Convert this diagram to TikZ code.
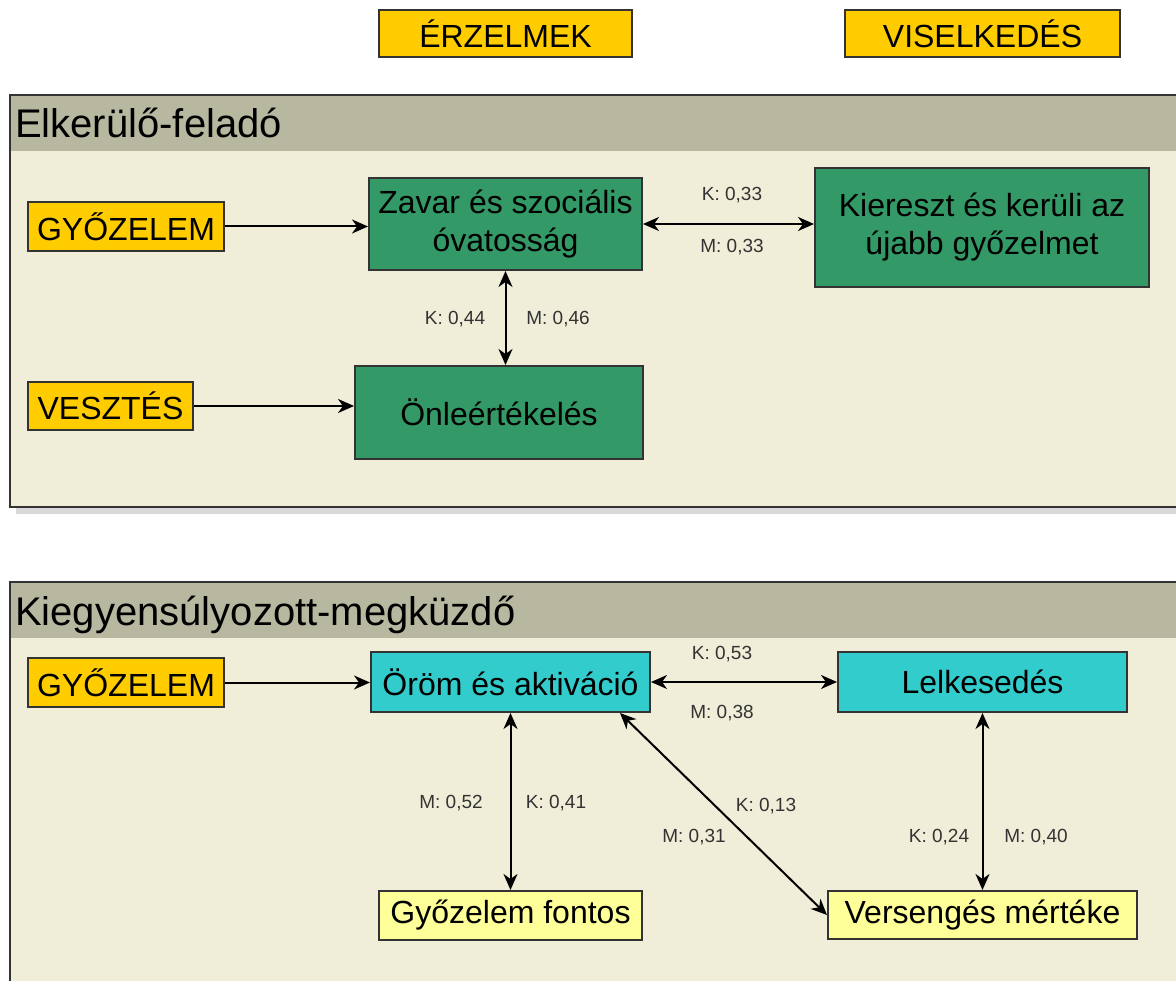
\documentclass[tikz,border=0pt]{standalone}
\usepackage{fontspec}
\setmainfont{Liberation Sans}
\usetikzlibrary{arrows.meta}

\definecolor{tagyellow}{HTML}{FFCC00}
\definecolor{emogreen}{HTML}{339966}
\definecolor{joycyan}{HTML}{33CCCC}
\definecolor{factyellow}{HTML}{FFFF99}
\definecolor{panelfill}{HTML}{F0EED8}
\definecolor{panelhead}{HTML}{B8B8A0}
\definecolor{edgegray}{HTML}{333333}

\tikzset{
    box/.style={draw=edgegray, line width=2pt, inner sep=0pt, align=center,
        font=\fontsize{32}{38}\selectfont},
    tagbox/.style={box, fill=tagyellow},
    emobox/.style={box, fill=emogreen},
    joybox/.style={box, fill=joycyan},
    factbox/.style={box, fill=factyellow},
    corr/.style={text=black!80, inner sep=0pt, font=\fontsize{19}{22}\selectfont},
    tip/.tip={Stealth[length=16pt,width=14pt,inset=5pt]},
    link/.style={line width=2pt, -tip},
    dlink/.style={line width=2pt, tip-tip},
    panel/.style={draw=edgegray, line width=2pt, fill=panelfill},
    title/.style={anchor=base west, inner sep=0pt, font=\fontsize{40}{46}\selectfont}
}

\begin{document}
\begin{tikzpicture}[x=1pt, y=-1pt]

    \useasboundingbox (0,0) rectangle (1176,981);
    \clip (0,0) rectangle (1176,981);

    %column tags
    \node[tagbox, minimum width=253, minimum height=47] (emo) at (505.5,33.5) {ÉRZELMEK};
    \node[tagbox, minimum width=275, minimum height=47] (beh) at (982.5,33.5) {VISELKEDÉS};

    %draw first panel
    \fill[black!15] (16,507) rectangle (1190,514);
    \draw[panel] (10,95) rectangle (1190,507);
    \fill[panelhead] (11,96) rectangle (1190,151);
    \node[title] (avoid) at (15,138) {Elkerülő-feladó};

    \node[tagbox, minimum width=196, minimum height=49] (win1) at (126,226.5) {GYŐZELEM};
    \node[tagbox, minimum width=165, minimum height=48] (loss) at (110.5,406) {VESZTÉS};
    \node[emobox, minimum width=273, minimum height=92] (zavar) at (505.5,224) {Zavar és szociális\\óvatosság};
    \node[emobox, minimum width=288, minimum height=93] (onle) at (499,412.5) {Önleértékelés};
    \node[emobox, minimum width=334, minimum height=119] (kier) at (982,227.5) {Kiereszt és kerüli az\\újabb győzelmet};

    \draw[link] (win1.east) -- (win1.east -| zavar.west);
    \draw[link] (loss.east) -- (loss.east -| onle.west);
    \draw[dlink] (zavar.east) -- (zavar.east -| kier.west);
    \draw[dlink] (zavar.south) -- (zavar.south |- onle.north);

    %draw first panel labels
    \node[corr] (k33) at (732,195) {K: 0,33};
    \node[corr] (m33) at (732,247) {M: 0,33};
    \node[corr] (k44) at (455,319) {K: 0,44};
    \node[corr] (m46) at (558,319) {M: 0,46};

    %draw second panel
    \draw[panel] (10,582) rectangle (1190,1000);
    \fill[panelhead] (11,583) rectangle (1190,638);
    \node[title] (balance) at (15,625) {Kiegyensúlyozott-megküzdő};

    \node[tagbox, minimum width=196, minimum height=49] (win2) at (126,682.5) {GYŐZELEM};
    \node[joybox, minimum width=279, minimum height=60] (orom) at (510.5,682) {Öröm és aktiváció};
    \node[joybox, minimum width=289, minimum height=60] (lelk) at (982.5,682) {Lelkesedés};
    \node[factbox, minimum width=263, minimum height=49] (gyfont) at (510.5,915.5) {Győzelem fontos};
    \node[factbox, minimum width=309, minimum height=48] (verseng) at (982.5,915) {Versengés mértéke};

    \draw[link] (win2.east) -- (win2.east -| orom.west);
    \draw[dlink] (orom.east) -- (orom.east -| lelk.west);
    \draw[dlink] (orom.south) -- (orom.south |- gyfont.north);
    \draw[dlink] ([xshift=-31pt]orom.south east) -- (verseng.west);
    \draw[dlink] (lelk.south) -- (lelk.south |- verseng.north);

    %draw second panel labels
    \node[corr] (k53) at (722,654) {K: 0,53};
    \node[corr] (m38) at (722,713) {M: 0,38};
    \node[corr] (m52) at (451,803) {M: 0,52};
    \node[corr] (k41) at (556,803) {K: 0,41};
    \node[corr] (k13) at (766,806) {K: 0,13};
    \node[corr] (m31) at (694,837) {M: 0,31};
    \node[corr] (k24) at (939,837) {K: 0,24};
    \node[corr] (m40) at (1036,837) {M: 0,40};

    \end{tikzpicture}
\end{document}
